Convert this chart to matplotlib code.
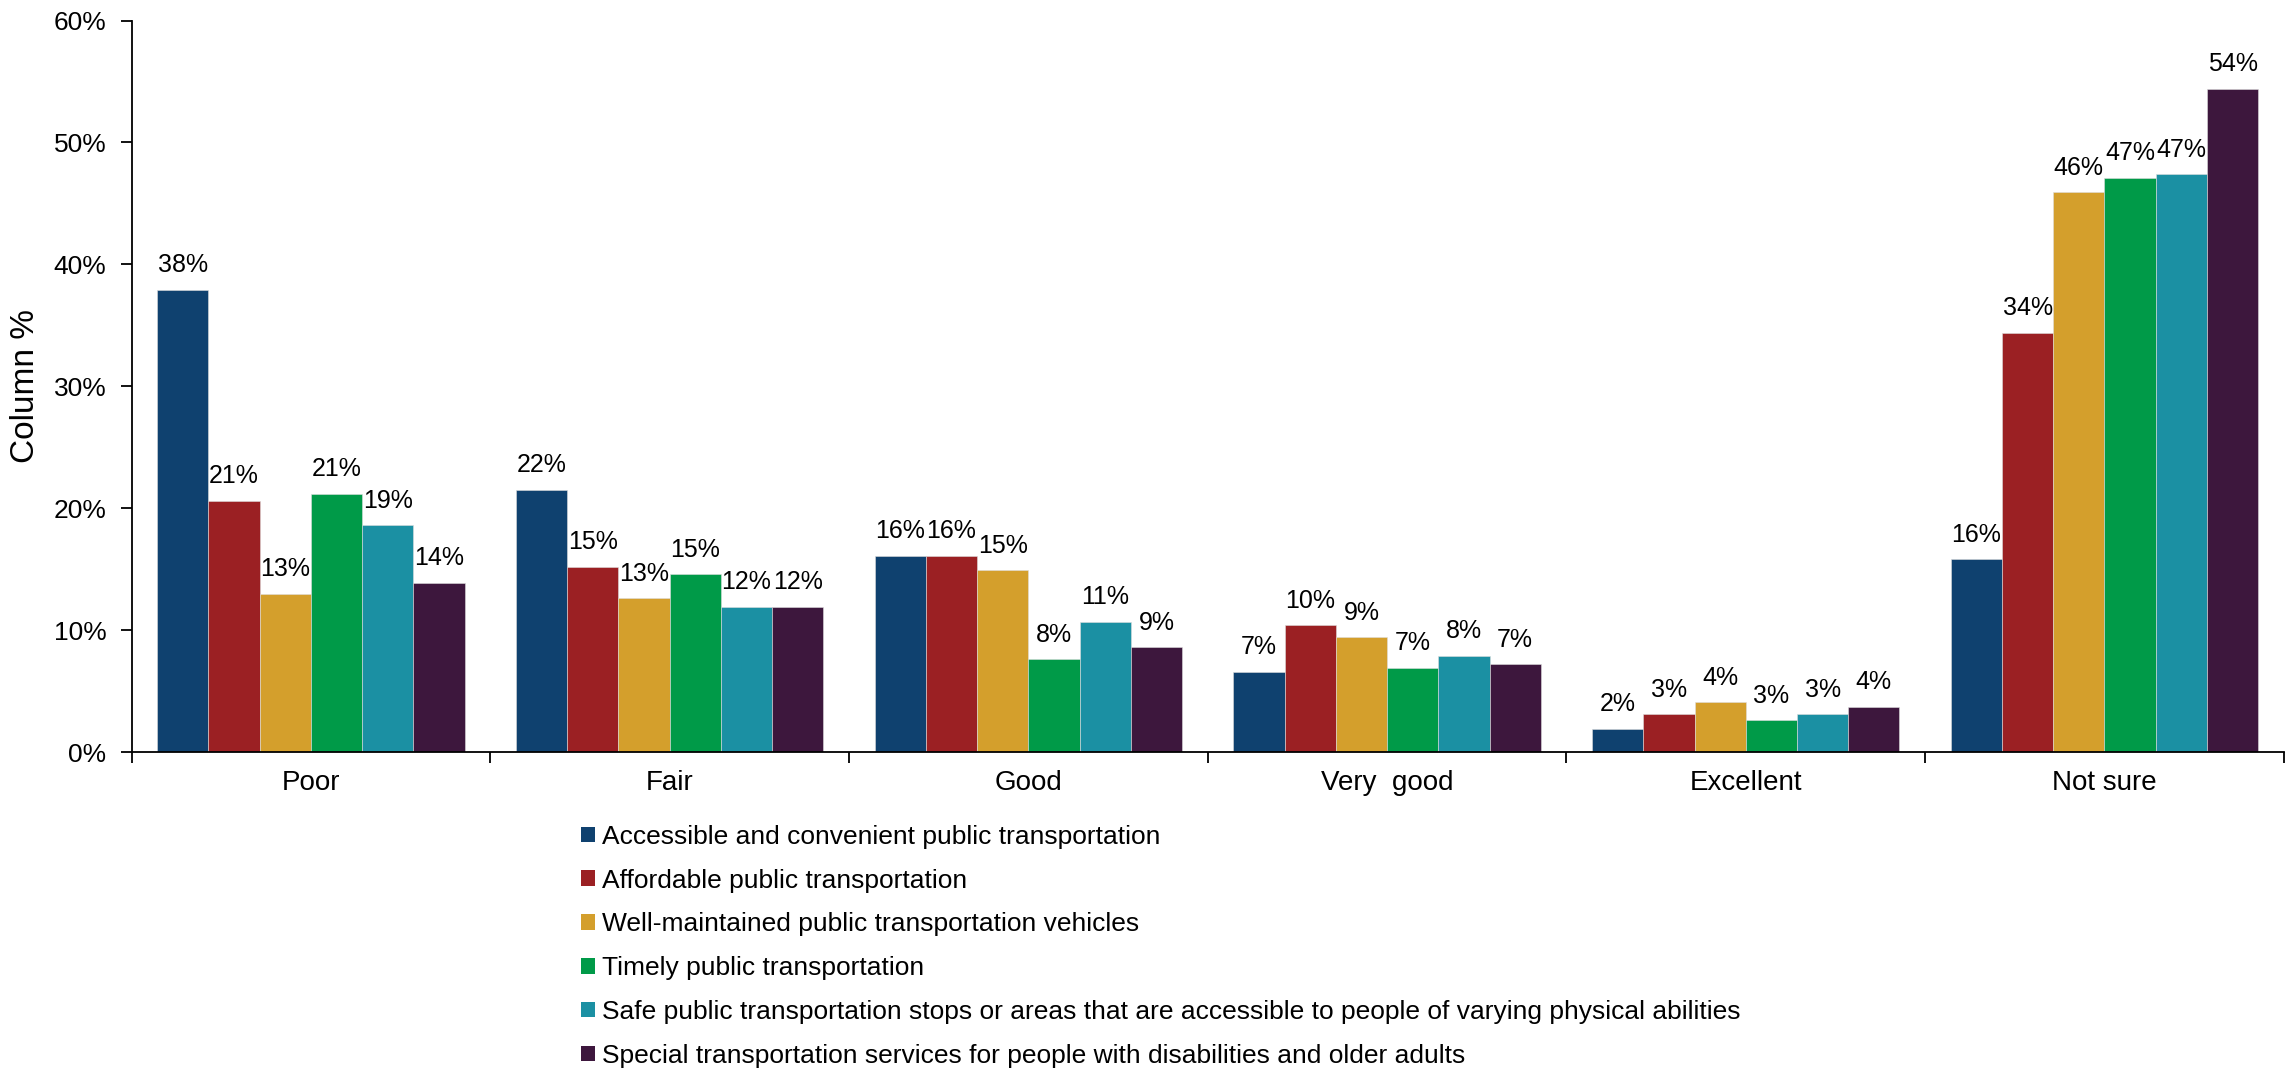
import numpy as np
import matplotlib.pyplot as plt
from matplotlib.patches import Patch

plt.rcParams['font.family'] = ['Liberation Sans', 'DejaVu Sans']

# ratings (x groups)
categories = ['Poor', 'Fair', 'Good', 'Very  good', 'Excellent', 'Not sure']

# one series per transportation item, values in %
series_names = [
    'Accessible and convenient public transportation',
    'Affordable public transportation',
    'Well-maintained public transportation vehicles',
    'Timely public transportation',
    'Safe public transportation stops or areas that are accessible to people of varying physical abilities',
    'Special transportation services for people with disabilities and older adults',
]
accessible = [37.9, 21.5, 16.1, 6.6, 1.9, 15.8]
affordable = [20.6, 15.2, 16.1, 10.4, 3.1, 34.4]
maintained = [13.0, 12.6, 14.9, 9.4, 4.1, 45.9]
timely = [21.2, 14.6, 7.6, 6.9, 2.6, 47.1]
safe_stops = [18.6, 11.9, 10.7, 7.9, 3.1, 47.4]
special = [13.9, 11.9, 8.6, 7.2, 3.7, 54.4]
values = [accessible, affordable, maintained, timely, safe_stops, special]

colors = ['#0F416F', '#9B2023', '#D49F2C', '#009A48', '#1B90A3', '#3D173D']

fig = plt.figure(figsize=(22.93, 10.81), dpi=100)
ax = fig.add_axes([0.0574, 0.3043, 0.9386, 0.6767])

x = np.arange(len(categories))
nb = len(values)
w = 0.857 / nb
for i, vals in enumerate(values):
    pos = x - 0.857 / 2 + w * (i + 0.5)
    bars = ax.bar(pos, vals, width=w, color=colors[i], edgecolor='#dddddd', linewidth=0.4)
    for b, v in zip(bars, vals):
        ax.annotate(f'{round(v):d}%', (b.get_x() + b.get_width() / 2, v),
                    xytext=(0, 9), textcoords='offset points',
                    ha='center', va='bottom', fontsize=18)

ax.set_xlim(-0.5, len(categories) - 0.5)
ax.set_ylim(0, 60)
ax.set_yticks(np.arange(0, 61, 10))
ax.set_yticklabels([f'{t}%' for t in range(0, 61, 10)], fontsize=19)
ax.set_ylabel('Column %', fontsize=24, labelpad=9)

# group labels in the middle, tick marks at group boundaries
ax.set_xticks(x)
ax.set_xticklabels(categories, fontsize=20)
ax.tick_params(axis='x', which='major', length=0, pad=13)
ax.set_xticks(np.arange(-0.5, len(categories)), minor=True)
ax.tick_params(axis='x', which='minor', length=8, width=1.3, direction='out')
ax.tick_params(axis='y', length=8, width=1.3, direction='out', pad=10)

for s in ['top', 'right']:
    ax.spines[s].set_visible(False)
for s in ['left', 'bottom']:
    ax.spines[s].set_linewidth(1.3)

handles = [Patch(facecolor=c) for c in colors]
fig.legend(handles, series_names, loc='upper left', bbox_to_anchor=(0.2534, 0.237),
           frameon=False, fontsize=19, handlelength=0.53, handleheight=0.53,
           handletextpad=0.25, labelspacing=0.75, borderpad=0, borderaxespad=0)

fig.savefig('out.png', dpi=100)
